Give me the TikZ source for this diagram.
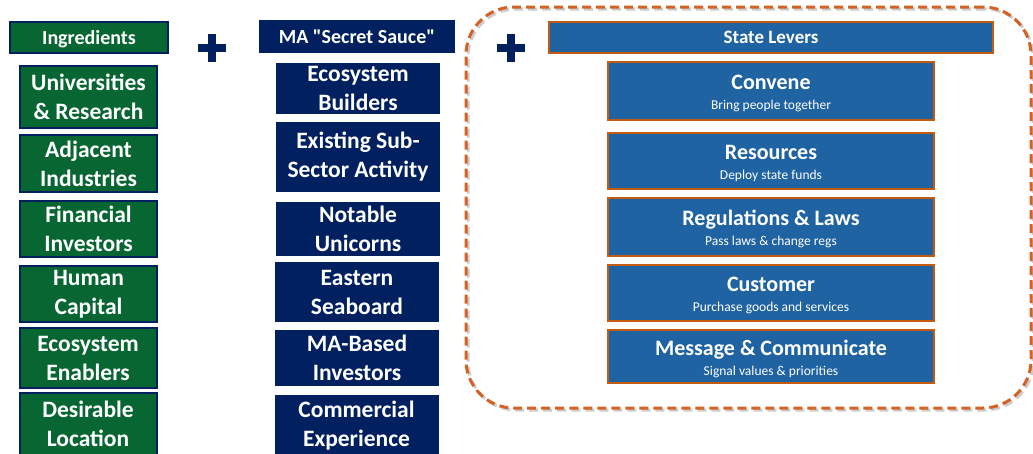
\documentclass[tikz,border=0pt]{standalone}
\usepackage{fontspec}
\setmainfont{Carlito}[Ligatures=TeXOff]
\definecolor{igreen}{RGB}{8,102,51}
\definecolor{navy}{RGB}{0,32,96}
\definecolor{lblue}{RGB}{32,99,163}
\definecolor{lorange}{RGB}{197,90,17}
\definecolor{dorange}{RGB}{212,98,36}
\newcommand\lvtitle[1]{{\fontsize{22}{22}\selectfont\bfseries\rule{0pt}{20pt}#1}}
\newcommand\lvsub[1]{{\fontsize{13.5}{14}\selectfont #1}}
\begin{document}
\begin{tikzpicture}[x=1pt,y=-1pt,
  box/.style={inner sep=0pt, text=white, align=center, anchor=center},
  grn/.style={box, fill=igreen, draw=navy, line width=2pt, minimum width=137pt, font=\fontsize{23.5}{29}\selectfont\bfseries},
  nav/.style={box, fill=navy, minimum width=164pt, font=\fontsize{23.5}{29}\selectfont\bfseries},
  hdr/.style={box, font=\fontsize{20}{22}\selectfont\bfseries},
  lev/.style={box, fill=lblue, draw=lorange, line width=2pt, minimum width=326pt, font=\fontsize{13.5}{20}\selectfont},
  plus/.style={fill=navy},
]
\useasboundingbox (0,0) rectangle (1033,453);
% dashed group
\node[draw=gray!40, line width=3pt, dash pattern=on 9pt off 5pt, rounded corners=48pt,
      minimum width=565pt, minimum height=401pt, inner sep=0pt] (groupshadow) at (750.5,209.5) {};
\node[draw=dorange, line width=3pt, dash pattern=on 9pt off 5pt, rounded corners=48pt,
      minimum width=565pt, minimum height=401pt, inner sep=0pt] (group) at (748.5,207.5) {};
% column 1
\node[hdr, fill=igreen, draw=navy, line width=2pt, minimum width=158pt, minimum height=31pt, text depth=0pt] (ing) at (89,37.5) {Ingredients};
\node[grn, minimum height=62pt] (uni) at (88.5,97) {Universities\\\& Research};
\node[grn, minimum height=57pt] (adj) at (88.5,163.5) {Adjacent\\Industries};
\node[grn, minimum height=56pt] (fin) at (88.5,229) {Financial\\Investors};
\node[grn, minimum height=56pt] (hum) at (88.5,294) {Human\\Capital};
\node[grn, minimum height=60pt] (ena) at (88,358) {Ecosystem\\Enablers};
\node[grn, minimum height=62pt] (loc) at (88,424) {Desirable\\Location};
% column 2
\node[hdr, fill=navy, minimum width=196pt, minimum height=33pt, text depth=0pt] (ma) at (357,36.5) {MA "Secret Sauce"};
\node[nav, minimum height=51pt] (bld) at (358,88.5) {Ecosystem\\Builders};
\node[nav, minimum height=70pt] (sub) at (358,157) {Existing Sub-\\Sector Activity};
\node[nav, minimum height=54pt] (uni2) at (358,229) {Notable\\Unicorns};
\node[nav, minimum height=60pt] (sea) at (357,292) {Eastern\\Seaboard};
\node[nav, minimum height=56pt] (inv) at (357,358) {MA-Based\\Investors};
\node[nav, minimum height=62pt] (com) at (356.5,426) {Commercial\\Experience};
% column 3
\node[hdr, fill=lblue, draw=lorange, line width=2pt, font=\fontsize{19}{22}\selectfont\bfseries, minimum width=444pt, minimum height=31pt] (sl) at (771,37.5) {State Levers};
\node[lev, minimum height=58pt] (cnv) at (771,91) {\lvtitle{Convene}\\\lvsub{Bring people together}};
\node[lev, minimum height=56pt] (res) at (771,161) {\lvtitle{Resources}\\\lvsub{Deploy state funds}};
\node[lev, minimum height=58pt] (reg) at (771,227) {\lvtitle{Regulations \& Laws}\\\lvsub{Pass laws \& change regs}};
\node[lev, minimum height=56pt] (cus) at (771,293) {\lvtitle{Customer}\\\lvsub{Purchase goods and services}};
\node[lev, minimum height=53pt] (msg) at (771,356.5) {\lvtitle{Message \& Communicate}\\\lvsub{Signal values \& priorities}};
% plus signs
\fill[plus] (198,44) rectangle (226,52);
\fill[plus] (208,34) rectangle (216,62);
\fill[plus] (497,44) rectangle (525,52);
\fill[plus] (507,34) rectangle (515,62);
\end{tikzpicture}
\end{document}
